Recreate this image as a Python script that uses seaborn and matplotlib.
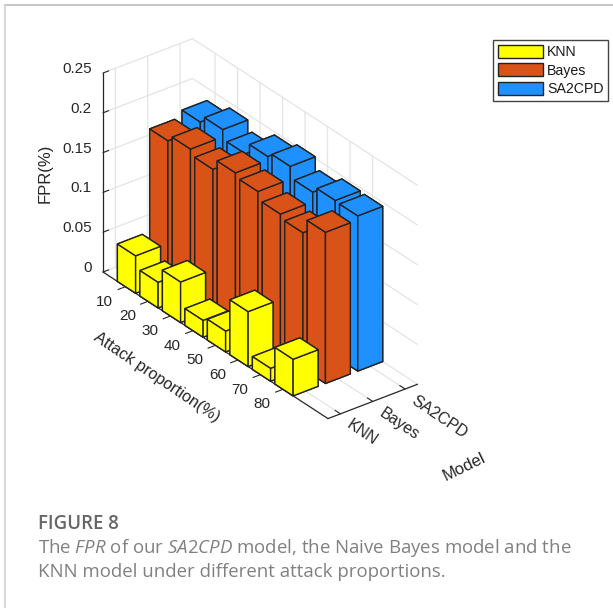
import matplotlib
matplotlib.use("Agg")
import matplotlib.pyplot as plt
import seaborn as sns
from matplotlib.patches import Patch
from matplotlib.lines import Line2D
from mpl_toolkits.mplot3d import proj3d

attack = [10, 20, 30, 40, 50, 60, 70, 80]
models = ["KNN", "Bayes", "SA2CPD"]
knn = [0.047, 0.032, 0.051, 0.021, 0.026, 0.069, 0.016, 0.046]
bayes = [0.176, 0.184, 0.177, 0.191, 0.186, 0.176, 0.171, 0.190]
sa2cpd = [0.184, 0.193, 0.181, 0.196, 0.202, 0.188, 0.196, 0.195]
z_ticks = [0, 0.05, 0.1, 0.15, 0.2, 0.25]
z_labels = ["0", "0.05", "0.1", "0.15", "0.2", "0.25"]

sns.set_theme(style="white", font="Liberation Sans")
palette = sns.color_palette(["#FFFF00", "#D95319", "#1E90FF"])
W, H = 613, 608
fig = plt.figure(figsize=(W / 100, H / 100), dpi=100, facecolor="white")
ax = fig.add_axes([0, 0, 1, 1], projection="3d", proj_type="ortho", facecolor="none")
ax.computed_zorder = False
ax.view_init(elev=30, azim=-37.5)
XL, YL, ZL = (0, 10), (0.615, 3.385), (0, 0.25)
ax.set_xlim(*XL); ax.set_ylim(*YL); ax.set_zlim(*ZL)
aspect = (370, 113, 230)
zoom = 1.0
ax.set_box_aspect(aspect, zoom=zoom)

order = 0
for k in (2, 1, 0):
    vals = [knn, bayes, sa2cpd][k]
    for i, v in enumerate(vals):
        order += 1
        ax.bar3d(i + 0.64, k + 0.615, 0, 0.81, 0.77, v, color=palette[k], shade=False,
                 edgecolor="#222222", linewidth=1.0, zorder=order + 10)

TICK_FS = 11
ax.set_xticks(range(1, 9))
ax.set_yticks([1, 2, 3])
ax.xaxis.set_major_formatter(matplotlib.ticker.NullFormatter())
ax.yaxis.set_major_formatter(matplotlib.ticker.NullFormatter())
ax.set_zticks(z_ticks); ax.set_zticklabels(z_labels)
ax.zaxis.set_ticks_position("lower")
ax.zaxis.set_label_position("lower")
ax.tick_params(axis="both", labelsize=TICK_FS, labelcolor="#262626")
ax.tick_params(axis="z", pad=0)
for lab in ax.get_zticklabels():
    lab.set(ha="right", va="center")
factors = {ax.xaxis: -1.05, ax.yaxis: 0.3, ax.zaxis: 0.8}
for axis in (ax.xaxis, ax.yaxis, ax.zaxis):
    axis.set_pane_color((1, 1, 1, 0))
    axis.pane.set_edgecolor("none")
    axis.line.set_color("#262626")
    axis.line.set_linewidth(0.9)
    axis._axinfo["grid"].update(color="#e4e4e4", linewidth=0.9)
    axis._axinfo["tick"].update(inward_factor=0.0, outward_factor=factors[axis], color="#262626",
                                linewidth={True: 0.8, False: 0.5})
ax.grid(True)

# place the 3D box so that two axis corners land where the reference has them
TARGET_O, TARGET_F = (103, 272), (328, 417)
def corners():
    fig.canvas.draw()
    M = ax.get_proj()
    out = []
    for x, y, z in ((XL[0], YL[0], 0), (XL[1], YL[0], 0)):
        a, b, _ = proj3d.proj_transform(x, y, z, M)
        out.append(ax.transData.transform((a, b)))
    return out
o, f = corners()
zoom *= (TARGET_F[0] - TARGET_O[0]) / (f[0] - o[0])
ax.set_box_aspect(aspect, zoom=zoom)
o, f = corners()
ax.set_position([(TARGET_O[0] - o[0]) / W, ((H - TARGET_O[1]) - o[1]) / H, 1, 1])

# tick labels anchored at projected data positions, so they can be rotated
M = ax.get_proj()
def text_at(x, y, z, s, **kw):
    a, b, _ = proj3d.proj_transform(x, y, z, M)
    ax.text2D(a, b, s, transform=ax.transData, color="#262626", zorder=100, clip_on=False, **kw)
for i, a in enumerate(attack):
    text_at(i + 1, YL[0] - 0.64, -0.009, str(a), ha="center", va="center", fontsize=TICK_FS)
for k, m in enumerate(models):
    text_at(XL[1] + 0.35, k + 1, -0.006, m, ha="left", va="center", rotation=-34,
            rotation_mode="anchor", fontsize=11.5)

LAB = dict(color="#262626", ha="center", va="center", rotation_mode="anchor")
fig.text(157 / W, 1 - 377 / H, "Attack proportion(%)", rotation=-34, fontsize=11.7, **LAB)
fig.text(464 / W, 1 - 467 / H, "Model", rotation=26, fontsize=12, **LAB)
fig.text(45 / W, 1 - 173 / H, "FPR(%)", rotation=90, fontsize=12, **LAB)

handles = [Patch(facecolor=c, edgecolor="#222222", linewidth=1.0) for c in palette]
leg = fig.legend(handles, models, loc="upper left", bbox_to_anchor=(493 / W, 1 - 40 / H),
                 bbox_transform=fig.transFigure, fontsize=10.2, frameon=True, fancybox=False,
                 edgecolor="#444444", framealpha=1, handlelength=3.2, handleheight=1.0,
                 handletextpad=0.25, labelspacing=0.3, borderpad=0.35, borderaxespad=0,
                 labelcolor="#1a1a1a")
leg.get_frame().set_linewidth(1.0)

fig.add_artist(Line2D([5 / W, 1], [1 - 5 / H, 1 - 5 / H], color="#bdbdbd", linewidth=1.2))
fig.add_artist(Line2D([5 / W, 5 / W], [0, 1 - 5 / H], color="#cfcfcf", linewidth=1.2))
plt.rcParams["mathtext.fontset"] = "custom"
plt.rcParams["mathtext.it"] = "Open Sans:italic"
plt.rcParams["mathtext.rm"] = "Open Sans"
fig.text(38 / W, 1 - 524 / H, "FIGURE 8", family="Open Sans", fontsize=13.4, weight="semibold",
         color="#666666", va="center")
fig.text(38 / W, 1 - 548 / H, r"The $\mathit{FPR}$ of our $\mathit{SA2CPD}$ model, the Naive Bayes model and the",
         family="Open Sans", fontsize=13.4, color="#808080", va="center")
fig.text(38 / W, 1 - 572 / H, "KNN model under different attack proportions.",
         family="Open Sans", fontsize=13.4, color="#808080", va="center")
fig.savefig("out.png", dpi=100, facecolor="white")
